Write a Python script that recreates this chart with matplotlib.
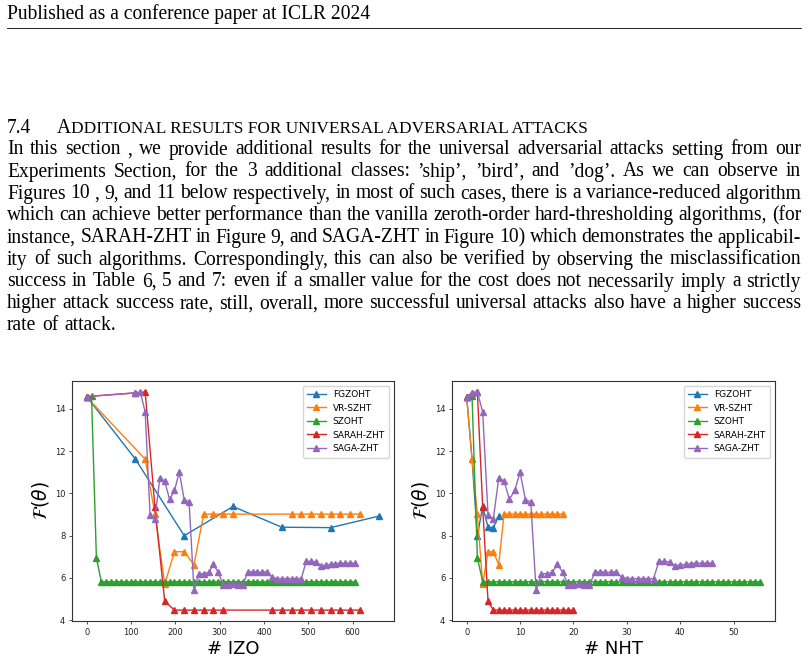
import numpy as np
import matplotlib as mpl
import matplotlib.pyplot as plt
from matplotlib.lines import Line2D

W, H = 808, 662

# ---- page text -------------------------------------------------------------
HEADER = "Published as a conference paper at ICLR 2024"
SECTION_NUM = "7.4"
SECTION_TITLE = "Additional results for universal adversarial attacks"
PARAGRAPH = [
    "In this section , we provide additional results for the universal adversarial attacks setting from our",
    "Experiments Section, for the 3 additional classes: \u2019ship\u2019, \u2019bird\u2019, and \u2019dog\u2019.  As we can observe in",
    "Figures 10 , 9, and 11 below respectively, in most of such cases, there is a variance-reduced algorithm",
    "which can achieve better performance than the vanilla zeroth-order hard-thresholding algorithms, (for",
    "instance, SARAH-ZHT in Figure 9, and SAGA-ZHT in Figure 10) which demonstrates the applicabil-",
    "ity of such algorithms. Correspondingly, this can also be verified by observing the misclassification",
    "success in Table 6, 5 and 7: even if a smaller value for the cost does not necessarily imply a strictly",
    "higher attack success rate, still, overall, more successful universal attacks also have a higher success",
    "rate of attack.",
]

# ---- chart data ---------------------------------------------------------
labels = ["FGZOHT", "VR-SZHT", "SZOHT", "SARAH-ZHT", "SAGA-ZHT"]

fg_izo = [0, 110, 220, 330, 440, 550, 660]
fg_f = [14.58, 11.62, 8.0, 9.38, 8.40, 8.38, 8.93]

vr_izo = [0, 132, 154, 176, 198, 220, 242, 264, 286, 308, 330,
          462, 484, 506, 528, 550, 572, 594, 616]
vr_f = [14.56, 11.62, 9.02, 5.70, 7.24, 7.24, 6.63, 9.02, 9.02, 9.02, 9.02,
        9.02, 9.02, 9.02, 9.02, 9.02, 9.02, 9.02, 9.02]

sz_izo = [0, 11, 22, 33, 44, 55, 66, 77, 88, 99, 110, 121, 132, 143, 154,
          165, 176, 187, 198, 209, 220, 231, 242, 253, 264, 275, 286, 297,
          308, 319, 330, 341, 352, 363, 374, 385, 396, 407, 418, 429, 440,
          451, 462, 473, 484, 495, 506, 517, 528, 539, 550, 561, 572, 583,
          594, 605]
sz_f = [14.58, 14.60, 6.96, 5.82, 5.82, 5.82, 5.82, 5.82, 5.82, 5.82, 5.82,
        5.82, 5.82, 5.82, 5.82, 5.82, 5.82, 5.82, 5.82, 5.82, 5.82, 5.82,
        5.82, 5.82, 5.82, 5.82, 5.82, 5.82, 5.82, 5.82, 5.82, 5.82, 5.82,
        5.82, 5.82, 5.82, 5.82, 5.82, 5.82, 5.82, 5.82, 5.82, 5.82, 5.82,
        5.82, 5.82, 5.82, 5.82, 5.82, 5.82, 5.82, 5.82, 5.82, 5.82, 5.82,
        5.82]

sarah_izo = [0, 110, 132, 154, 176, 198, 220, 242, 264, 286, 308,
             418, 440, 462, 484, 506, 528, 550, 572, 594, 616]
sarah_f = [14.58, 14.75, 14.80, 9.35, 4.90, 4.48, 4.48, 4.48, 4.48, 4.48,
           4.48, 4.48, 4.48, 4.48, 4.48, 4.48, 4.48, 4.48, 4.48, 4.48, 4.48]

saga_izo = [0, 110, 121, 132, 143, 154, 165, 176, 187, 198, 209, 220, 231,
            242, 253, 264, 275, 286, 297, 308, 319, 330, 341, 352, 363, 374,
            385, 396, 407, 418, 429, 440, 451, 462, 473, 484, 495, 506, 517,
            528, 539, 550, 561, 572, 583, 594, 605]
saga_f = [14.58, 14.76, 14.80, 13.85, 8.98, 8.80, 10.72, 10.58, 9.72, 10.14,
          11.00, 9.70, 9.60, 5.42, 6.20, 6.20, 6.26, 6.64, 6.26, 5.66, 5.68,
          5.71, 5.68, 5.65, 6.27, 6.30, 6.27, 6.27, 6.30, 6.04, 5.97, 5.97,
          5.97, 5.97, 5.97, 5.97, 6.78, 6.78, 6.77, 6.58, 6.61, 6.64, 6.68,
          6.70, 6.70, 6.70, 6.70]

series = [(fg_izo, fg_f), (vr_izo, vr_f), (sz_izo, sz_f),
          (sarah_izo, sarah_f), (saga_izo, saga_f)]
colors = ["#1f77b4", "#ff7f0e", "#2ca02c", "#d62728", "#9467bd"]

SERIF = "Liberation Serif"
LEFT, RIGHT = 7, 801

fig = plt.figure(figsize=(W / 100, H / 100), dpi=100)
renderer = fig.canvas.get_renderer()


def fx(px):
    return px / W


def fy(py):
    return 1 - py / H


def text_width(s, size):
    t = fig.text(0, 0, s, family=SERIF, size=size)
    w = t.get_window_extent(renderer).width
    t.remove()
    return w


def natural_width(line, size):
    words = [w for w in line.split(" ") if w]
    sp = text_width("a b", size) - 2 * text_width("a", size)
    return sum(text_width(w, size) for w in words) + sp * (len(words) - 1)


# pick the body size so the justified lines fit the text block naturally
ratios = [(RIGHT - LEFT) / natural_width(l, 10.0) for l in PARAGRAPH[:-1]]
BODY = 10.0 * float(np.median(ratios))


def put(x, y, s, size=None):
    fig.text(fx(x), fy(y), s, family=SERIF, size=size or BODY,
             va="baseline", ha="left", color="black")


# header + rule
put(LEFT, 19, HEADER)
fig.add_artist(Line2D([fx(LEFT), fx(RIGHT)], [fy(27.5), fy(27.5)],
                      lw=0.6, color="black"))

# section heading in small caps
put(LEFT, 133, SECTION_NUM)
x = LEFT + text_width(SECTION_NUM, BODY) + BODY * 1.8
put(x, 133, SECTION_TITLE[0])
x += text_width(SECTION_TITLE[0], BODY) + 0.5
put(x, 133, SECTION_TITLE[1:].upper(), BODY * 0.88)

# justified paragraph
space = text_width("a b", BODY) - 2 * text_width("a", BODY)
for i, line in enumerate(PARAGRAPH):
    y = 154.5 + 22.0 * i
    words = [w for w in line.split(" ") if w]
    widths = [text_width(w, BODY) for w in words]
    if i == len(PARAGRAPH) - 1:
        gap = space
    else:
        gap = (RIGHT - LEFT - sum(widths)) / (len(words) - 1)
    x = LEFT
    for w, wd in zip(words, widths):
        put(x, y, w)
        x += wd + gap

# ---- charts -----------------------------------------------------------------
ax1 = fig.add_axes([fx(72), fy(621), (394 - 72) / W, (621 - 381) / H])
ax2 = fig.add_axes([fx(452), fy(621), (775 - 452) / W, (621 - 381) / H])

for ax, use_izo in ((ax1, True), (ax2, False)):
    for (izo, f), lab, c in zip(series, labels, colors):
        xs = izo if use_izo else np.arange(len(f))
        ax.plot(xs, f, marker="^", ms=4.0, lw=1.0, color=c, label=lab)
    ax.set_yticks([4, 6, 8, 10, 12, 14])
    ax.tick_params(labelsize=6, length=2.4, width=0.6, pad=2.4,
                   colors="#333333", labelcolor="#222222")
    for sp in ax.spines.values():
        sp.set_linewidth(0.8)
        sp.set_color("#333333")
    ax.set_ylabel(r"$\mathcal{F}(\theta)$", fontsize=13.5, labelpad=3)
    ax.legend(loc="upper right", fontsize=6.5, handlelength=2.0,
              borderpad=0.5, labelspacing=0.5, framealpha=0.8,
              edgecolor="0.8", fancybox=True)

ax1.set_xticks([0, 100, 200, 300, 400, 500, 600])
ax2.set_xticks([0, 10, 20, 30, 40, 50])
ax1.set_xlabel("# IZO", fontsize=13, labelpad=2.5)
ax2.set_xlabel("# NHT", fontsize=13, labelpad=2.5)

fig.savefig("out.png", dpi=100)
